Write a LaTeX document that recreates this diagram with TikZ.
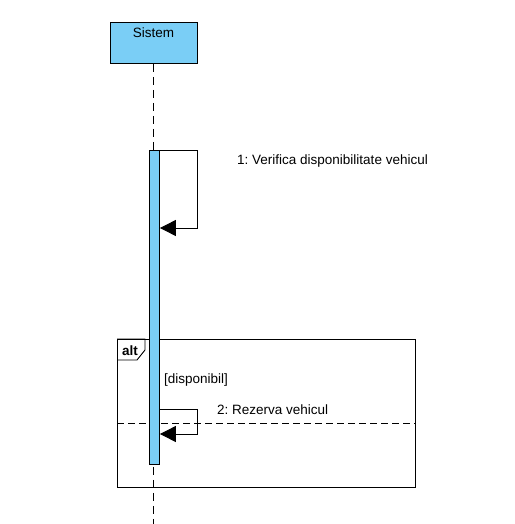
\documentclass[tikz,border=0pt]{standalone}
\usepackage{fontspec}
\setmainfont{Liberation Sans}
\usetikzlibrary{arrows.meta}
\definecolor{umlblue}{RGB}{122,206,246}
\frenchspacing
\begin{document}
\begin{tikzpicture}[x=1pt,y=-1pt,
  every node/.style={font=\fontsize{13.5}{16}\selectfont},
  lifebox/.style={draw, fill=umlblue, line width=0.9pt, minimum width=87pt, minimum height=41pt, anchor=north west, inner sep=0pt},
  actbar/.style={draw, fill=umlblue, line width=0.9pt, minimum width=10pt, anchor=north west, inner sep=0pt},
  lifeline/.style={line width=0.9pt, dash pattern=on 8pt off 5pt},
  msg/.style={line width=0.9pt, -{Triangle[length=16pt,width=16pt]}},
  frame/.style={draw, line width=0.9pt},
  txt/.style={anchor=west, inner sep=0pt}
]
\useasboundingbox (0,0) rectangle (514,524);
% lifeline
\node[lifebox] (sis) at (110,22) {};
\node[anchor=base, inner sep=0pt] (sislbl) at (153.5,38) {Sistem};
\coordinate (llend) at (153,524);
\draw[lifeline] (sis.south -| llend) -- (llend);
% alt frame
\node[frame, minimum width=298pt, minimum height=148pt, anchor=north west, inner sep=0pt] (alt) at (117,339) {};
\draw[line width=0.9pt] (alt.north west) -- ++(28,0) -- ++(0,11) -- ++(-8,10) -- ++(-20,0);
\node[inner sep=0pt, font=\fontsize{13.5}{16}\selectfont\bfseries] (altlbl) at (130,351) {alt};
\coordinate (sepL) at (117,423);
\coordinate (sepR) at (415,423);
\draw[line width=0.9pt, dash pattern=on 7pt off 4pt] (sepL) -- (sepR);
% activation
\node[actbar, minimum height=314pt] (act) at (149,150) {};
% message 1
\coordinate (m1r) at (197,150);
\coordinate (m1b) at (197,228);
\draw[msg] (act.north east) -- (m1r) -- (m1b) -- (act.east |- m1b);
\node[txt] (l1) at (237,161) {1: Verifica disponibilitate vehicul};
% guard
\node[txt] (g) at (164,380) {[disponibil]};
% message 2
\coordinate (m2t) at (197,409);
\coordinate (m2b) at (197,434);
\draw[msg] (act.east |- m2t) -- (m2t) -- (m2b) -- (act.east |- m2b);
\node[txt] (l2) at (217,410) {2: Rezerva vehicul};
\end{tikzpicture}
\end{document}
